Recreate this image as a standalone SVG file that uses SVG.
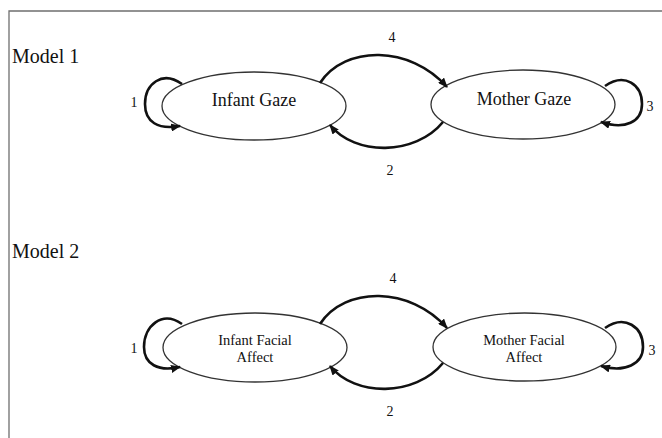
<svg xmlns="http://www.w3.org/2000/svg" width="662" height="438" viewBox="0 0 662 438">
<style>
.bg{fill:#ffffff}
.frame{fill:none;stroke:#6f6f6f;stroke-width:1.3}
.node{fill:#ffffff;stroke:#333;stroke-width:1.3}
.edge{fill:none;stroke:#111;stroke-width:2.6}
.t{font-family:"Liberation Serif","Times New Roman",serif;fill:#111}
.title{font-size:20px}
.lab{font-size:18px;text-anchor:middle}
.lab2{font-size:14.5px;text-anchor:middle}
.num{font-size:14px;text-anchor:middle}
</style>
<defs>
<marker id="ah" markerWidth="10" markerHeight="8" refX="9" refY="4" orient="auto" markerUnits="userSpaceOnUse">
<path d="M0,0 L10,4 L0,8 Z" fill="#111"/>
</marker>
</defs>
<rect class="bg" x="0" y="0" width="662" height="438"/>
<path class="frame" d="M9,438 V11 H662"/>
<text class="t title" x="12" y="63">Model 1</text>
<text class="t title" x="12" y="258">Model 2</text>

<g id="infant-gaze">
<ellipse class="node" cx="254" cy="106" rx="92" ry="34"/>
<text class="t lab" x="254" y="106">Infant Gaze</text>
</g>
<g id="mother-gaze">
<ellipse class="node" cx="523" cy="104.5" rx="92" ry="34.5"/>
<text class="t lab" x="524" y="105">Mother Gaze</text>
</g>
<g id="infant-facial-affect">
<ellipse class="node" cx="255" cy="347.5" rx="92" ry="34.5"/>
<text class="t lab2" x="255" y="345">Infant Facial</text>
<text class="t lab2" x="255" y="362">Affect</text>
</g>
<g id="mother-facial-affect">
<ellipse class="node" cx="524.5" cy="347" rx="91.5" ry="34"/>
<text class="t lab2" x="524" y="345">Mother Facial</text>
<text class="t lab2" x="524" y="362">Affect</text>
</g>

<g id="connectors">
<path class="edge" marker-end="url(#ah)" d="M182,84 C162,70 145,84 145,104 C145,122 158,130 180,126"/>
<path class="edge" marker-end="url(#ah)" d="M320,83 C345,45 410,45 447,87"/>
<path class="edge" marker-end="url(#ah)" d="M443,122 C415,156 355,156 330,125"/>
<path class="edge" marker-end="url(#ah)" d="M605,86 C625,72 642,85 642,104 C642,122 625,130 601,122"/>

<path class="edge" marker-end="url(#ah)" d="M182,324 C162,310 144,326 144,347 C144,364 158,372 180,367"/>
<path class="edge" marker-end="url(#ah)" d="M320,324 C345,286 410,286 447,328"/>
<path class="edge" marker-end="url(#ah)" d="M443,363 C415,397 355,397 330,366"/>
<path class="edge" marker-end="url(#ah)" d="M605,328 C625,314 643,327 643,347 C643,364 625,373 601,366"/>
</g>

<text class="t num" x="134" y="107">1</text>
<text class="t num" x="392" y="42">4</text>
<text class="t num" x="390" y="175">2</text>
<text class="t num" x="650" y="111">3</text>
<text class="t num" x="134" y="353">1</text>
<text class="t num" x="393" y="283">4</text>
<text class="t num" x="390" y="416">2</text>
<text class="t num" x="652" y="355">3</text>
</svg>
